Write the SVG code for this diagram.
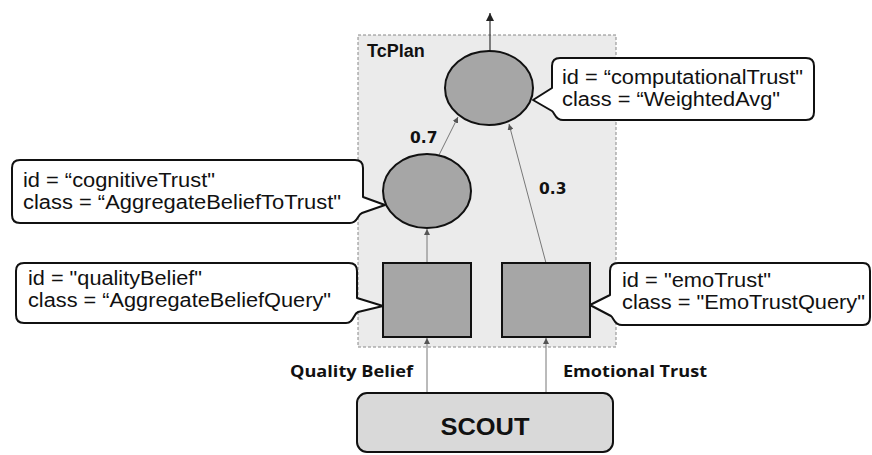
<svg xmlns="http://www.w3.org/2000/svg" width="872" height="455" viewBox="0 0 872 455">
<defs>
<style>
.plan{fill:#ebebeb;stroke:#888;stroke-width:1;stroke-dasharray:3,2}
.op{fill:#a6a6a6;stroke:#111;stroke-width:2}
.call{fill:#fff;stroke:#111;stroke-width:2;stroke-linejoin:round}
.ct{font-family:"Liberation Sans",Arial,sans-serif;font-size:19.5px;fill:#111}
.w{font-family:"DejaVu Sans",Verdana,sans-serif;font-size:15.5px;font-weight:bold;fill:#111}
.lab{font-family:"Open Sans","Liberation Sans",sans-serif;font-size:16.5px;font-weight:bold;fill:#111}
.edge{stroke:#777;stroke-width:1;fill:none;marker-end:url(#ah)}
.edge2{stroke:#333;stroke-width:1.2;fill:none;marker-end:url(#ah2)}
</style>
<marker id="ah" viewBox="0 0 10 10" refX="10" refY="5" markerWidth="6" markerHeight="6" markerUnits="userSpaceOnUse" orient="auto"><path d="M0,0L10,5L0,10Z" fill="#555"/></marker>
<marker id="ah2" viewBox="0 0 10 10" refX="10" refY="5" markerWidth="8" markerHeight="8" markerUnits="userSpaceOnUse" orient="auto"><path d="M0,0L10,5L0,10Z" fill="#222"/></marker>
</defs>
<g id="tcplan">
<rect class="plan" x="358" y="35" width="258" height="312"/>
<text x="367" y="57" font-family="Liberation Sans,Arial,sans-serif" font-size="18" font-weight="bold" fill="#111">TcPlan</text>
</g>
<g id="connectors">
<line class="edge2" x1="490" y1="52" x2="490" y2="13"/>
<line class="edge" x1="439" y1="155" x2="458" y2="117"/>
<line class="edge" x1="546" y1="263" x2="509" y2="124"/>
<line class="edge" x1="427" y1="263" x2="427" y2="229"/>
<line class="edge" x1="427" y1="393" x2="427" y2="338"/>
<line class="edge" x1="546" y1="393" x2="546" y2="338"/>
<text class="w" x="410" y="143">0.7</text>
<text class="w" x="539" y="194">0.3</text>
<text class="lab" x="290" y="377" textLength="123" lengthAdjust="spacingAndGlyphs">Quality Belief</text>
<text class="lab" x="563" y="377" textLength="144" lengthAdjust="spacingAndGlyphs">Emotional Trust</text>
</g>
<g id="computationalTrust">
<ellipse class="op" cx="489" cy="88" rx="44" ry="37"/>
</g>
<g id="cognitiveTrust">
<ellipse class="op" cx="427" cy="191" rx="44" ry="37"/>
</g>
<g id="qualityBelief">
<rect class="op" x="383" y="263" width="88" height="74"/>
</g>
<g id="emoTrust">
<rect class="op" x="502" y="263" width="88" height="74"/>
</g>
<g id="scout">
<rect x="357" y="393" width="256" height="59" rx="10" fill="#d9d9d9" stroke="#111" stroke-width="2"/>
<text x="485" y="435" text-anchor="middle" font-family="Liberation Sans,Arial,sans-serif" font-size="24" font-weight="bold" fill="#111" textLength="89" lengthAdjust="spacingAndGlyphs">SCOUT</text>
</g>
<g id="callout-computationalTrust">
<path class="call" d="M560,58H806Q814,58 814,66V112Q814,120 806,120H563C555,120 555,113 552,111L533,100L552,88V66Q552,58 560,58Z"/>
<text class="ct" x="562" y="83.5" textLength="241" lengthAdjust="spacingAndGlyphs">id = “computationalTrust"</text>
<text class="ct" x="562" y="105.5" textLength="218" lengthAdjust="spacingAndGlyphs">class = “WeightedAvg"</text>
</g>
<g id="callout-cognitiveTrust">
<path class="call" d="M20,160H355Q363,160 363,168V197L385,205L362,213C357,215 358,223 350,223H20Q12,223 12,215V168Q12,160 20,160Z"/>
<text class="ct" x="23" y="186.5" textLength="192" lengthAdjust="spacingAndGlyphs">id = “cognitiveTrust"</text>
<text class="ct" x="23" y="209" textLength="318" lengthAdjust="spacingAndGlyphs">class = “AggregateBeliefToTrust"</text>
</g>
<g id="callout-qualityBelief">
<path class="call" d="M24,263H349Q357,263 357,271V298L383,306L358,312C353,314 354,323 346,323H24Q16,323 16,315V271Q16,263 24,263Z"/>
<text class="ct" x="28" y="284.5" textLength="174" lengthAdjust="spacingAndGlyphs">id = "qualityBelief"</text>
<text class="ct" x="28" y="307" textLength="303" lengthAdjust="spacingAndGlyphs">class = “AggregateBeliefQuery"</text>
</g>
<g id="callout-emoTrust">
<path class="call" d="M618,263H863Q870,263 870,271V317Q870,325 863,325H622C614,325 614,318 611,316L590,305L610,295V271Q610,263 618,263Z"/>
<text class="ct" x="622" y="286.5" textLength="149" lengthAdjust="spacingAndGlyphs">id = "emoTrust"</text>
<text class="ct" x="622" y="308.5" textLength="243" lengthAdjust="spacingAndGlyphs">class = "EmoTrustQuery"</text>
</g>
</svg>
